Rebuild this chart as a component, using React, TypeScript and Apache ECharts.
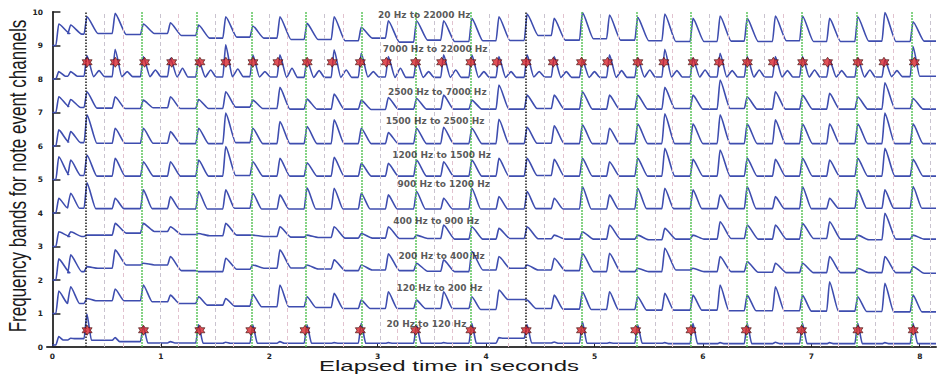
import React, { useEffect, useRef } from "react";
import * as echarts from "echarts";

// Note onsets (s) shared by all channel traces
const onsets = [0.05, 0.16, 0.31, 0.57, 0.83, 1.08, 1.34, 1.59, 1.84, 2.09, 2.34, 2.59, 2.84, 3.09, 3.35, 3.6, 3.86, 4.11, 4.37, 4.62, 4.88, 5.13, 5.39, 5.64, 5.9, 6.15, 6.4, 6.66, 6.91, 7.16, 7.42, 7.67, 7.93];

const ch9Peaks = [9.64, 9.61, 9.86, 9.96, 9.64, 9.68, 9.61, 9.86, 9.58, 9.86, 9.66, 9.86, 9.54, 9.74, 9.74, 9.74, 9.81, 9.86, 9.94, 9.81, 9.98, 9.91, 9.84, 9.94, 9.81, 9.88, 9.81, 9.88, 9.88, 9.81, 9.86, 9.98, 9.71];
const ch9Troughs = [9.36, 9.34, 9.36, 9.33, 9.36, 9.3, 9.22, 9.25, 9.22, 9.18, 9.18, 9.14, 9.22, 9.1, 9.16, 9.12, 9.14, 9.15, 9.3, 9.16, 9.2, 9.16, 9.14, 9.12, 9.12, 9.13, 9.12, 9.14, 9.12, 9.12, 9.13, 9.12, 9.13];

const ch8Peaks = [8.22, 8.22, 8.7, 8.89, 8.67, 8.62, 8.57, 9.02, 8.72, 8.72, 8.57, 8.87, 8.77, 8.67, 8.57, 8.72, 8.72, 8.67, 8.72, 8.67, 8.57, 8.72, 8.62, 8.89, 8.62, 8.77, 8.67, 8.67, 8.67, 8.57, 8.62, 8.57, 8.97];
const ch8Troughs = [8.08, 8.08, 8.07, 8.07, 8.07, 8.06, 8.06, 8.07, 8.06, 8.05, 8.05, 8.05, 8.06, 8.05, 8.05, 8.05, 8.05, 8.05, 8.06, 8.05, 8.05, 8.05, 8.06, 8.06, 8.06, 8.06, 8.06, 8.06, 8.06, 8.06, 8.06, 8.07, 8.08];
const ch8Bumps = [null, null, 8.25, 8.22, 8.27, 8.32, 8.27, 8.3, 8.22, 8.32, 8.25, 8.27, 8.22, 8.32, 8.22, 8.27, 8.22, 8.22, 8.22, 8.22, 8.22, 8.25, 8.27, 8.25, 8.27, 8.25, 8.27, 8.25, 8.27, 8.25, 8.27, 8.25, null];

const ch7Peaks = [7.47, 7.39, 7.62, 7.47, 7.37, 7.47, 7.39, 7.62, 7.37, 7.75, 7.4, 7.55, 7.37, 7.45, 7.42, 7.52, 7.37, 7.82, 7.52, 7.52, 7.62, 7.52, 7.52, 7.75, 7.52, 7.97, 7.47, 7.62, 7.52, 7.57, 7.47, 7.89, 7.42];
const ch7Troughs = [7.18, 7.15, 7.13, 7.12, 7.14, 7.12, 7.12, 7.16, 7.12, 7.1, 7.1, 7.1, 7.09, 7.1, 7.1, 7.1, 7.1, 7.1, 7.12, 7.1, 7.1, 7.1, 7.1, 7.12, 7.1, 7.12, 7.1, 7.1, 7.1, 7.1, 7.1, 7.12, 7.1];

const ch6Peaks = [6.48, 6.43, 6.93, 6.53, 6.53, 6.43, 6.53, 6.98, 6.53, 6.73, 6.58, 6.78, 6.53, 6.4, 6.53, 6.56, 6.53, 6.8, 6.56, 6.6, 6.63, 6.53, 6.66, 6.96, 6.66, 6.93, 6.66, 6.78, 6.66, 6.66, 6.66, 6.98, 6.66];
const ch6Troughs = [6.12, 6.1, 6.08, 6.08, 6.08, 6.07, 6.07, 6.1, 6.07, 6.07, 6.07, 6.07, 6.07, 6.07, 6.07, 6.07, 6.07, 6.07, 6.08, 6.07, 6.07, 6.07, 6.07, 6.07, 6.07, 6.07, 6.07, 6.07, 6.07, 6.07, 6.07, 6.07, 6.07];

const ch5Peaks = [5.68, 5.58, 5.73, 5.63, 5.53, 5.53, 5.58, 5.98, 5.53, 5.63, 5.5, 5.66, 5.48, 5.48, 5.58, 5.53, 5.58, 5.63, 5.63, 5.6, 5.63, 5.53, 5.63, 5.93, 5.6, 5.88, 5.63, 5.6, 5.63, 5.58, 5.63, 5.93, 5.6];
const ch5Troughs = [5.15, 5.12, 5.1, 5.1, 5.1, 5.1, 5.1, 5.12, 5.1, 5.1, 5.1, 5.1, 5.1, 5.1, 5.1, 5.1, 5.1, 5.1, 5.12, 5.1, 5.1, 5.1, 5.1, 5.1, 5.1, 5.1, 5.1, 5.1, 5.1, 5.1, 5.1, 5.1, 5.1];

const ch4Peaks = [4.44, 4.59, 4.9, 4.44, 4.69, 4.49, 4.64, 4.69, 4.59, 4.54, 4.75, 4.74, 4.59, 4.54, 4.64, 4.44, 4.74, 4.49, 4.64, 4.44, 4.79, 4.54, 4.74, 4.74, 4.69, 4.54, 4.79, 4.49, 4.79, 4.44, 4.69, 4.69, 4.79];
const ch4Troughs = [4.15, 4.14, 4.13, 4.13, 4.13, 4.12, 4.12, 4.14, 4.12, 4.12, 4.12, 4.12, 4.12, 4.12, 4.12, 4.12, 4.12, 4.12, 4.13, 4.12, 4.12, 4.12, 4.13, 4.13, 4.13, 4.13, 4.13, 4.13, 4.13, 4.14, 4.14, 4.14, 4.14];

const ch3Peaks = [3.44, 3.44, 3.34, 3.69, 3.69, 3.59, 3.39, 3.69, 3.34, 3.59, 3.34, 3.59, 3.39, 3.59, 3.34, 3.64, 3.59, 3.54, 3.59, 3.34, 3.44, 3.64, 3.34, 3.54, 3.34, 3.74, 3.64, 3.64, 3.69, 3.74, 3.34, 3.99, 3.34];
const ch3Troughs = [3.3, 3.3, 3.34, 3.4, 3.45, 3.36, 3.32, 3.34, 3.3, 3.28, 3.27, 3.25, 3.25, 3.24, 3.24, 3.22, 3.22, 3.24, 3.23, 3.22, 3.22, 3.22, 3.2, 3.22, 3.22, 3.24, 3.22, 3.22, 3.24, 3.22, 3.2, 3.22, 3.22];

const ch2Peaks = [2.63, 2.75, 2.4, 2.9, 2.5, 2.7, 2.25, 2.65, 2.45, 2.9, 2.45, 2.6, 2.45, 2.78, 2.5, 2.6, 2.85, 2.7, 2.45, 2.65, 2.8, 2.8, 2.35, 2.95, 2.35, 2.7, 2.55, 2.5, 2.5, 2.7, 2.35, 2.7, 2.4];
const ch2Troughs = [2.22, 2.25, 2.35, 2.45, 2.45, 2.28, 2.25, 2.32, 2.35, 2.36, 2.33, 2.28, 2.3, 2.28, 2.26, 2.25, 2.3, 2.35, 2.3, 2.28, 2.25, 2.25, 2.25, 2.3, 2.25, 2.25, 2.23, 2.22, 2.22, 2.22, 2.22, 2.22, 2.2];

const ch1Peaks = [1.67, 1.8, 1.45, 1.73, 1.85, 1.55, 1.5, 1.45, 1.57, 1.85, 1.5, 1.6, 1.4, 1.65, 1.4, 1.65, 1.5, 1.7, 1.4, 1.55, 1.65, 1.65, 1.5, 1.6, 1.55, 1.85, 1.55, 1.8, 1.55, 1.95, 1.5, 1.9, 1.55];
const ch1Troughs = [1.3, 1.3, 1.38, 1.38, 1.35, 1.3, 1.25, 1.22, 1.2, 1.2, 1.18, 1.15, 1.15, 1.15, 1.15, 1.15, 1.12, 1.42, 1.15, 1.13, 1.12, 1.12, 1.1, 1.1, 1.1, 1.08, 1.08, 1.08, 1.07, 1.07, 1.06, 1.05, 1.05];

const ch0Peaks = [0.31, 0.26, 0.98, 0.28, 0.62, 0.16, 0.66, 0.14, 0.66, 0.16, 0.66, 0.13, 0.71, 0.13, 0.66, 0.13, 0.71, 0.28, 0.66, 0.15, 0.76, 0.13, 0.66, 0.13, 0.71, 0.13, 0.71, 0.14, 0.71, 0.13, 0.71, 0.13, 0.71];
const ch0Troughs = [0.21, 0.25, 0.2, 0.16, 0.12, 0.12, 0.11, 0.11, 0.11, 0.11, 0.11, 0.11, 0.11, 0.11, 0.11, 0.11, 0.11, 0.26, 0.12, 0.11, 0.11, 0.11, 0.11, 0.1, 0.1, 0.1, 0.1, 0.1, 0.1, 0.1, 0.1, 0.1, 0.1];

// Detected note events
const highBandEvents = [0.32, 0.58, 0.85, 1.1, 1.36, 1.6, 1.85, 2.08, 2.35, 2.58, 2.84, 3.08, 3.35, 3.59, 3.86, 4.1, 4.37, 4.62, 4.88, 5.12, 5.4, 5.64, 5.91, 6.15, 6.41, 6.65, 6.92, 7.15, 7.43, 7.67, 7.95];
const lowBandEvents = [0.32, 0.84, 1.36, 1.83, 2.33, 2.84, 3.35, 3.86, 4.37, 4.88, 5.38, 5.89, 6.4, 6.91, 7.43, 7.94];

// Grid lines (s)
const barLines = [0.31, 4.37];
const beatLines = [0.82, 1.33, 1.84, 2.34, 2.85, 3.35, 3.86, 4.88, 5.39, 5.89, 6.4, 6.91, 7.42, 7.93];
const subBeatLines = [0.48, 0.65, 0.99, 1.16, 1.5, 1.67, 2.0, 2.17, 2.51, 2.68, 3.02, 3.18, 3.52, 3.69, 4.03, 4.2, 4.54, 4.71, 5.05, 5.22, 5.56, 5.72, 6.06, 6.23, 6.57, 6.74, 7.08, 7.25, 7.59, 7.76, 8.1];

const bandNames = ["20 Hz to 22000 Hz", "7000 Hz to 22000 Hz", "2500 Hz to 7000 Hz", "1500 Hz to 2500 Hz", "1200 Hz to 1500 Hz", "900 Hz to 1200 Hz", "400 Hz to 900 Hz", "200 Hz to 400 Hz", "120 Hz to 200 Hz", "20 Hz to 120 Hz"];
const bandLabelX = [3.43, 3.53, 3.55, 3.53, 3.59, 3.61, 3.54, 3.59, 3.57, 3.45];
const bandLabelY = [9.91, 8.9, 7.61, 6.75, 5.73, 4.87, 3.76, 2.72, 1.76, 0.69];

const xTickValues = [0, 1, 2, 3, 4, 5, 6, 7, 8];

const channels = [
  { start: 9.0, peaks: ch9Peaks, troughs: ch9Troughs, bumps: null, decay: 0.11 },
  { start: 8.0, peaks: ch8Peaks, troughs: ch8Troughs, bumps: ch8Bumps, decay: 0.07 },
  { start: 7.0, peaks: ch7Peaks, troughs: ch7Troughs, bumps: null, decay: 0.1 },
  { start: 6.0, peaks: ch6Peaks, troughs: ch6Troughs, bumps: null, decay: 0.1 },
  { start: 5.0, peaks: ch5Peaks, troughs: ch5Troughs, bumps: null, decay: 0.1 },
  { start: 4.0, peaks: ch4Peaks, troughs: ch4Troughs, bumps: null, decay: 0.09 },
  { start: 3.0, peaks: ch3Peaks, troughs: ch3Troughs, bumps: null, decay: 0.11 },
  { start: 2.0, peaks: ch2Peaks, troughs: ch2Troughs, bumps: null, decay: 0.11 },
  { start: 1.0, peaks: ch1Peaks, troughs: ch1Troughs, bumps: null, decay: 0.09 },
  { start: 0.06, peaks: ch0Peaks, troughs: ch0Troughs, bumps: null, decay: 0.05 },
];

function buildTrace(ch: any) {
  const pts: number[][] = [[0, ch.start]];
  onsets.forEach((t, i) => {
    const prev = i === 0 ? ch.start : ch.troughs[i - 1];
    pts.push([t - 0.018, prev]);
    pts.push([t + 0.008, ch.peaks[i]]);
    pts.push([t + ch.decay, ch.troughs[i]]);
    const b = ch.bumps ? ch.bumps[i] : null;
    if (b != null) {
      pts.push([t + 0.12, b]);
      pts.push([t + 0.17, ch.troughs[i]]);
    }
  });
  pts.push([8.15, ch.troughs[ch.troughs.length - 1]]);
  return pts;
}

const STAR = "path://M0,-10L2.9,-5L8.7,-5L5.8,0L8.7,5L2.9,5L0,10L-2.9,5L-8.7,5L-5.8,0L-8.7,-5L-2.9,-5Z";

export default function App() {
  const ref = useRef<HTMLDivElement>(null);
  useEffect(() => {
    if (!ref.current) return;
    const chart = echarts.init(ref.current, null, { renderer: "svg" });
    const traceColor = "#3e4daf";
    const series: any[] = [];
    series.push({
      type: "line",
      data: [],
      silent: true,
      z: 1,
      markLine: {
        silent: true,
        symbol: "none",
        label: { show: false },
        animation: false,
        data: [
          ...subBeatLines.map((v, i) => ({ xAxis: v, lineStyle: { color: i % 2 === 0 ? "#c9c3cf" : "#e2c2cf", width: 1, type: [4, 3] } })),
          ...beatLines.map((v) => ({ xAxis: v, lineStyle: { color: "#5cc55c", width: 1.5, type: [2, 1] } })),
          ...barLines.map((v) => ({ xAxis: v, lineStyle: { color: "#1a1a1a", width: 1.5, type: [1.5, 1.5] } })),
        ],
      },
    });
    channels.forEach((ch) => {
      series.push({
        type: "line",
        data: buildTrace(ch),
        showSymbol: false,
        silent: true,
        smooth: 0.2,
        smoothMonotone: "x",
        z: 3,
        lineStyle: { color: traceColor, width: 1.6 },
      });
    });
    const markerStyle = { color: "#d9262c", borderColor: "#3a0a0a", borderWidth: 0.8 };
    series.push({
      type: "scatter",
      data: highBandEvents.map((t) => [t, 8.5]),
      symbol: STAR,
      symbolSize: [10, 10],
      itemStyle: markerStyle,
      z: 5,
    });
    series.push({
      type: "scatter",
      data: lowBandEvents.map((t) => [t, 0.5]),
      symbol: STAR,
      symbolSize: [10, 10],
      itemStyle: markerStyle,
      z: 5,
    });
    series.push({
      type: "scatter",
      data: bandNames.map((n, i) => [bandLabelX[i], bandLabelY[i], n]),
      symbolSize: 0,
      z: 6,
      label: {
        show: true,
        position: "inside",
        formatter: (p: any) => p.data[2],
        fontFamily: "DejaVu Sans",
        fontWeight: "bold",
        fontSize: 9,
        color: "#2e2e2e",
      },
    });

    chart.setOption({
      animation: false,
      backgroundColor: "#ffffff",
      grid: { left: 47, right: 1, top: 12, bottom: 27, containLabel: false },
      xAxis: {
        type: "value",
        min: -0.05,
        max: 8.15,
        axisLine: { show: true, onZero: false, lineStyle: { color: "#3a3a3a", width: 2 } },
        axisTick: { show: true, inside: true, length: 4, customValues: xTickValues, lineStyle: { color: "#222" } },
        axisLabel: { customValues: xTickValues, fontFamily: "DejaVu Sans", fontWeight: "bold", fontSize: 7.5, color: "#222", margin: 5 },
        splitLine: { show: false },
      },
      yAxis: {
        type: "value",
        min: 0,
        max: 10,
        interval: 1,
        axisLine: { show: true, lineStyle: { color: "#3a3a3a", width: 2 } },
        axisTick: { show: true, inside: true, length: 8, lineStyle: { color: "#222", width: 1.5 } },
        axisLabel: { fontFamily: "DejaVu Sans", fontWeight: "bold", fontSize: 7.5, color: "#222", margin: 4 },
        splitLine: { show: false },
      },
      graphic: [
        {
          type: "text",
          x: 449,
          y: 366,
          scaleX: 1.6,
          style: {
            text: "Elapsed time in seconds",
            fontFamily: "Liberation Sans",
            fontSize: 15,
            fill: "#1a1a1a",
            align: "center",
            verticalAlign: "middle",
          },
        },
        {
          type: "text",
          x: 17,
          y: 176,
          rotation: Math.PI / 2,
          scaleY: 1.45,
          style: {
            text: "Frequency bands for note event channels",
            fontFamily: "Liberation Sans",
            fontSize: 17,
            fill: "#1a1a1a",
            align: "center",
            verticalAlign: "middle",
          },
        },
      ],
      series,
    });
    return () => chart.dispose();
  }, []);
  return <div ref={ref} style={{ position: "fixed", left: 0, top: 0, width: 937, height: 374, background: "#fff" }} />;
}
